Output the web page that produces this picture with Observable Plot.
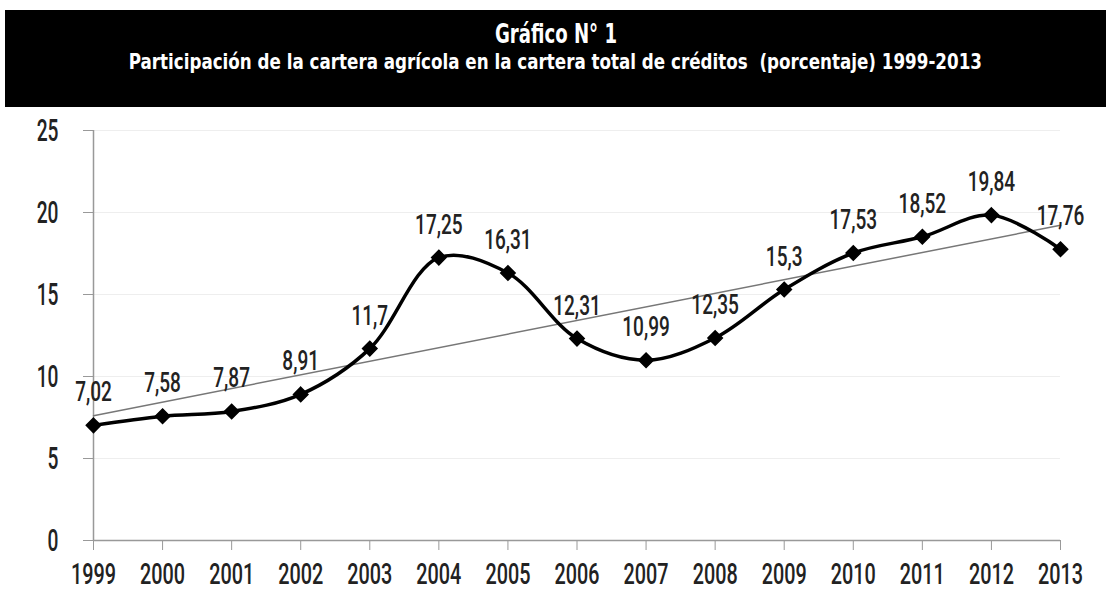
<!DOCTYPE html>
<html>
<head>
<meta charset="utf-8">
<script src="https://cdn.jsdelivr.net/npm/d3@7"></script>
<script src="https://cdn.jsdelivr.net/npm/@observablehq/plot@0.6"></script>
<style>
  html, body { margin: 0; padding: 0; background: #fff; width: 1106px; height: 592px; overflow: hidden; }
  #title {
    position: absolute; left: 5px; top: 10px; width: 1101px; height: 97px;
    background: #000; color: #fff; text-align: center;
    font-family: "DejaVu Sans", "Liberation Sans", sans-serif; font-weight: bold;
  }
  #title div { position: absolute; left: 0; width: 100%; text-align: center; }
  #title span { display: inline-block; white-space: pre; transform-origin: 50% 50%; }
  #title .t1 { top: 10px; font-size: 27px; line-height: 27px; }
  #title .t2 { top: 42px; font-size: 21px; line-height: 21px; }
  #chart { position: absolute; left: 0; top: 107px; }
</style>
</head>
<body>
<div id="title">
  <div class="t1"><span data-w="122">Gráfico N° 1</span></div>
  <div class="t2"><span data-w="853">Participación de la cartera agrícola en la cartera total de créditos  (porcentaje) 1999-2013</span></div>
</div>
<div id="chart"></div>
<script>
const years = [1999, 2000, 2001, 2002, 2003, 2004, 2005, 2006, 2007, 2008, 2009, 2010, 2011, 2012, 2013];
const shares = [7.02, 7.58, 7.87, 8.91, 11.7, 17.25, 16.31, 12.31, 10.99, 12.35, 15.3, 17.53, 18.52, 19.84, 17.76];
const yTicks = [0, 5, 10, 15, 20, 25];

const data = years.map((year, i) => ({year, value: shares[i]}));
const fmt = v => String(v).replace(".", ",");
const font = 'Roboto, "Liberation Sans", sans-serif';

const chart = Plot.plot({
  width: 1106,
  height: 485,
  marginTop: 23,
  marginBottom: 52,
  marginLeft: 93,
  marginRight: 46,
  style: {fontFamily: font, fontSize: "31px", fontWeight: 500, color: "#222", background: "transparent"},
  x: {domain: [1999, 2013], ticks: years, tickFormat: "d", label: null},
  y: {domain: [0, 25], ticks: yTicks, label: null},
  marks: [
    Plot.gridY(yTicks.filter(d => d > 0), {stroke: "#eee", strokeOpacity: 1, strokeWidth: 1}),
    Plot.axisY({ticks: yTicks, tickSize: 10, tickPadding: 25, stroke: "#999", fill: "#222", fontSize: 32, label: null}),
    Plot.axisX({ticks: years, tickFormat: "d", tickSize: 10, tickPadding: 12, stroke: "#999", fill: "#222", fontSize: 30, label: null}),
    Plot.ruleX([1999], {stroke: "#999", strokeWidth: 1.5}),
    Plot.ruleY([0], {stroke: "#999", strokeWidth: 1.5}),
    Plot.linearRegressionY(data, {x: "year", y: "value", ci: 0, stroke: "#777", strokeWidth: 1.5}),
    Plot.line(data, {x: "year", y: "value", curve: "catmull-rom", stroke: "#000", strokeWidth: 3.5}),
    Plot.dot(data, {x: "year", y: "value", symbol: "diamond2", r: 6.5, fill: "#000", stroke: "#000"}),
    Plot.text(data, {x: "year", y: "value", text: d => fmt(d.value), dy: -33, fontSize: 28, fill: "#222", fontFamily: font, className: "vlabel"})
  ]
});
document.getElementById("chart").appendChild(chart);

// Condense all chart text horizontally around its anchor point
chart.querySelectorAll("text").forEach(t => {
  const tr = t.getAttribute("transform") || "";
  const inX = t.closest("[aria-label='x-axis tick label']");
  const s = t.closest(".vlabel") ? 0.68 : inX ? 0.66 : 0.6;
  let pre = "";
  const xa = t.getAttribute("x");
  if (xa != null && isFinite(+xa)) { pre = ` translate(${+xa},0)`; t.removeAttribute("x"); }
  t.setAttribute("transform", `${tr}${pre} scale(${s},1)`);
});

// Fit title lines to the widths in the reference
document.querySelectorAll("#title span").forEach(sp => {
  const w = sp.getBoundingClientRect().width;
  sp.style.transform = `scaleX(${(+sp.dataset.w / w).toFixed(3)})`;
});
</script>
</body>
</html>
